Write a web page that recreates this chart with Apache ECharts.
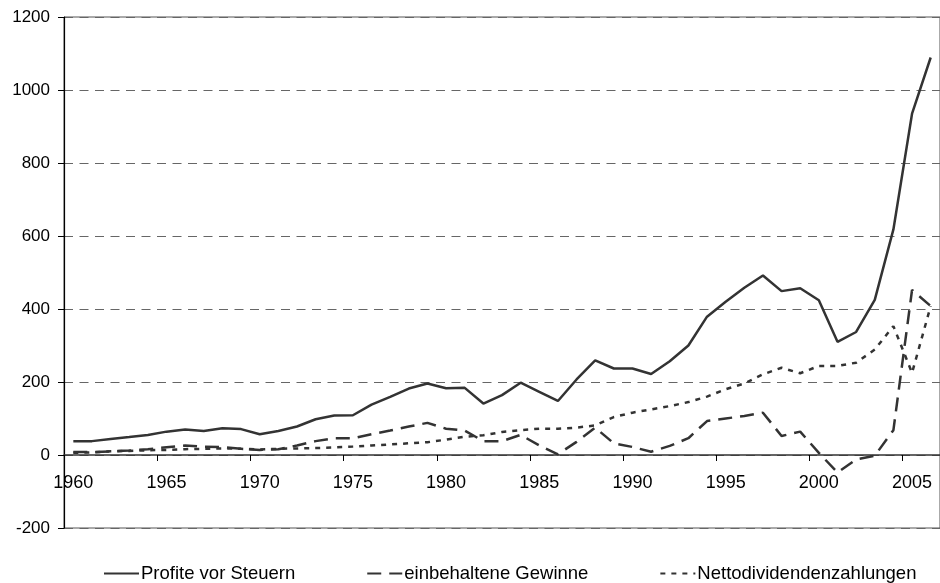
<!DOCTYPE html>
<html>
<head>
<meta charset="utf-8">
<script src="https://cdn.jsdelivr.net/npm/echarts@6/dist/echarts.min.js"></script>
<style>
  html, body { margin: 0; padding: 0; background: #fff; }
  #chart { width: 940px; height: 583px; }
</style>
</head>
<body>
<div id="chart"></div>
<script>
const years = [];
for (let y = 1960; y <= 2006; y++) years.push(String(y));

const profits = [38, 38, 44, 49, 55, 64, 70, 66, 73, 71,
  57, 66, 78, 98, 108, 109, 138, 159, 182, 196,
  183, 184, 141, 164, 198, 173, 148, 207, 259, 237,
  237, 222, 257, 300, 379, 420, 458, 492, 449, 457,
  424, 310, 337, 425, 618, 935, 1089];

const retained = [8, 8, 10, 12, 16, 21, 26, 23, 22, 17,
  14, 16, 26, 38, 46, 46, 57, 67, 78, 88,
  72, 67, 38, 38, 55, 26, 2, 36, 75, 32,
  22, 9, 25, 46, 93, 100, 107, 116, 52, 64,
  6, -48, -12, -2, 68, 452, 408];

const dividends = [6, 7, 10, 11, 13, 14, 16, 17, 18, 17,
  15, 17, 18, 19, 21, 23, 26, 29, 32, 35,
  42, 50, 54, 63, 68, 72, 72, 75, 81, 104,
  116, 125, 134, 145, 160, 180, 196, 221, 239, 224,
  244, 244, 253, 289, 353, 225, 408];

const seriesNames = ["Profite vor Steuern", "einbehaltene Gewinne", "Nettodividendenzahlungen"];

const font = "'Liberation Sans', Arial, sans-serif";
const lineColor = "#333";

const chart = echarts.init(document.getElementById("chart"), null, { renderer: "canvas" });

// plot height 511px for 1400 units -> the zero line sits 73px above the bottom
const zeroOffset = -73;

chart.setOption({
  animation: false,
  backgroundColor: "#fff",
  textStyle: { fontFamily: font, color: "#000" },
  grid: {
    left: 64,
    right: -8,
    top: 17,
    bottom: 55,
    show: true,
    borderColor: "#555",
    borderWidth: 1,
  },
  legend: {
    data: seriesNames,
    left: 98,
    top: 559,
    itemWidth: 35,
    itemHeight: 14,
    itemGap: 71,
    itemStyle: { opacity: 0 },
    textStyle: { fontFamily: font, fontSize: 18.5, color: "#000", padding: [0, 0, 0, -3] },
  },
  xAxis: {
    type: "category",
    data: years,
    boundaryGap: true,
    position: "bottom",
    offset: zeroOffset,
    axisLine: { onZero: false, lineStyle: { color: "#333", width: 1.5 } },
    axisTick: { show: true, interval: 4, length: 6, lineStyle: { color: "#000" } },
    axisLabel: { interval: 4, fontSize: 18, color: "#000", margin: 19, fontFamily: font },
    splitLine: { show: false },
  },
  yAxis: {
    type: "value",
    min: -200,
    max: 1200,
    interval: 200,
    axisLine: { show: true, lineStyle: { color: "#000", width: 1.2 } },
    axisTick: { show: true, length: 6, lineStyle: { color: "#000" } },
    axisLabel: {
      fontSize: 17, color: "#000", margin: 14, fontFamily: font,
      formatter: (v) => String(v),
    },
    splitLine: { show: true, lineStyle: { color: "#666", width: 1.2, type: [9, 6.5] } },
  },
  series: [
    {
      name: seriesNames[0],
      type: "line",
      data: profits,
      symbol: "none",
      lineStyle: { color: lineColor, width: 2.5 },
      itemStyle: { color: lineColor },
    },
    {
      name: seriesNames[1],
      type: "line",
      data: retained,
      symbol: "none",
      lineStyle: { color: lineColor, width: 2.5, type: [14, 8] },
      itemStyle: { color: lineColor },
    },
    {
      name: seriesNames[2],
      type: "line",
      data: dividends,
      symbol: "none",
      lineStyle: { color: lineColor, width: 2.5, type: [5, 6] },
      itemStyle: { color: lineColor },
    },
  ],
});
</script>
</body>
</html>
